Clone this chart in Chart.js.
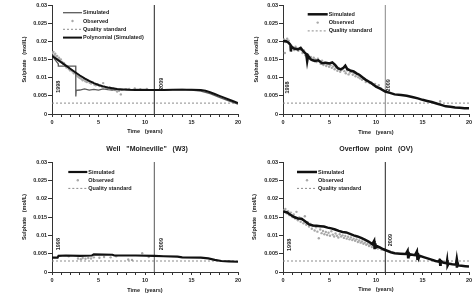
<!DOCTYPE html>
<html><head><meta charset="utf-8">
<script src="https://cdn.jsdelivr.net/npm/chart.js@4"></script>
<style>
body{margin:0;background:#fff;width:473px;height:302px;overflow:hidden;position:relative;font-family:"Liberation Sans",Arial,sans-serif}
canvas{position:absolute}
.t{position:absolute;font:bold 7px "Liberation Sans",Arial,sans-serif;white-space:pre;transform:translateX(-50%);line-height:8px;color:#222;z-index:5}
</style></head><body>
<canvas id="c1" width="242" height="145" style="left:0;top:0"></canvas>
<canvas id="c2" width="237" height="145" style="left:236px;top:0"></canvas>
<canvas id="c3" width="242" height="150" style="left:0;top:152px"></canvas>
<canvas id="c4" width="237" height="150" style="left:236px;top:152px"></canvas>
<div class="t" style="left:147px;top:145px">Well   "Moineville"   (W3)</div>
<div class="t" style="left:376px;top:145px">Overflow   point   (OV)</div>
<script>
// ---------- DATA ----------
const QUALITY_STANDARD = 0.003;
const SPLIT_YEAR_T = 11;
const Y_TICKS = [0, 0.005, 0.01, 0.015, 0.02, 0.025, 0.03];

// Panel 1 (top-left)
const TL_SIM_T = [0,0.3,0.67,0.68,1.5,2.55,2.56,2.6,3,3.5,4,4.5,5,5.5,6,6.5,7,7.5,8,8.5,9,10,11,12,13,14,15,16,17,18,19,20];
const TL_SIM_V = [0.0163,0.0150,0.0138,0.0132,0.0132,0.0132,0.0048,0.0065,0.0066,0.0069,0.0066,0.0068,0.0066,0.0069,0.0067,0.0066,0.0068,0.0066,0.0069,0.0067,0.0068,0.0068,0.0066,0.0066,0.0067,0.0068,0.0066,0.0063,0.0056,0.0046,0.0036,0.0027];
const TL_POLY_T = [0,0.5,1,1.5,2,2.5,3,3.5,4,4.5,5,5.5,6,7,8,9,10,11,12,13,14,15,16,16.5,17,17.5,18,18.5,19,19.5,20];
const TL_POLY_V = [0.0160,0.0151,0.0142,0.0133,0.0124,0.0115,0.0106,0.0098,0.0091,0.0085,0.0080,0.0076,0.0073,0.0069,0.0067,0.0066,0.0066,0.0066,0.0066,0.0067,0.0067,0.0067,0.0066,0.0064,0.0060,0.0055,0.0050,0.0045,0.0040,0.0035,0.0030];
const TL_OBS_T = [0.05,0.15,0.25,0.35,0.45,0.55,0.65,0.75,0.85,0.95,1.1,1.2,1.3,1.45,1.55,1.7,1.8,1.95,2.1,2.2,2.35,2.5,2.6,2.75,2.9,3.0,3.15,3.3,3.45,3.6,3.75,3.9,4.05,4.2,4.4,4.55,4.7,4.9,5.1,5.25,5.4,5.5,5.6,5.8,6.0,6.2,6.4,6.6,6.8,7.0,7.2,7.4,8.3,8.9,9.5,10.2];
const TL_OBS_V = [0.0168,0.0171,0.0162,0.0166,0.0158,0.0160,0.0152,0.0155,0.0148,0.0150,0.0143,0.0138,0.0140,0.0133,0.0128,0.0130,0.0124,0.0120,0.0121,0.0117,0.0112,0.0114,0.0108,0.0104,0.0101,0.0099,0.0097,0.0093,0.0095,0.0090,0.0088,0.0091,0.0086,0.0084,0.0087,0.0081,0.0079,0.0082,0.0077,0.0078,0.0074,0.0085,0.0076,0.0072,0.0071,0.0073,0.0068,0.0070,0.0066,0.0062,0.0064,0.0054,0.0069,0.0070,0.0068,0.0069];

// Panel 2 (top-right)
const TR_SIM_T = [0,0.3,0.6,0.8,0.85,0.9,1.2,1.6,1.9,2.2,2.5,2.6,2.7,3.0,3.4,3.8,4.2,4.6,5.0,5.3,5.6,5.9,6.2,6.5,6.7,6.9,7.3,7.6,7.9,8.2,8.6,8.9,9.3,9.6,10.0,10.5,11.0,11.5,12.0,12.7,13.3,14.0,14.5,15.0,15.5,16.0,16.5,17.0,17.5,18.0,18.5,19.0,19.5,20.0];
const TR_SIM_V = [0.0200,0.0201,0.0196,0.0190,0.0172,0.0185,0.0180,0.0178,0.0182,0.0172,0.0165,0.0145,0.0160,0.0150,0.0146,0.0148,0.0140,0.0141,0.0139,0.0142,0.0135,0.0126,0.0123,0.0127,0.0133,0.0124,0.0119,0.0117,0.0112,0.0108,0.0100,0.0094,0.0088,0.0083,0.0075,0.0069,0.0062,0.0058,0.0054,0.0052,0.0050,0.0046,0.0043,0.0039,0.0036,0.0033,0.0029,0.0025,0.0021,0.0020,0.0018,0.0017,0.0016,0.0016];
const TR_OBS_T = [0.1,0.2,0.3,0.45,0.6,0.75,0.9,1.05,1.2,1.35,1.5,1.65,1.8,1.95,2.1,2.25,2.4,2.55,2.7,2.85,3.0,3.15,3.3,3.45,3.6,3.75,3.9,4.05,4.2,4.35,4.5,4.65,4.8,4.95,5.1,5.25,5.4,5.55,5.7,5.85,6.0,6.15,6.3,6.45,6.6,6.75,6.9,7.05,7.2,7.35,7.5,7.65,7.8,7.95,8.1,8.3,8.5,8.7,8.9,9.1,9.3,9.5,9.7,9.9,10.1,10.3,10.5,16.9];
const TR_OBS_V = [0.0205,0.0168,0.0198,0.0207,0.0202,0.0193,0.0188,0.0183,0.0176,0.0185,0.0180,0.0174,0.0179,0.0176,0.0168,0.0175,0.0162,0.0158,0.0163,0.0152,0.0157,0.0148,0.0155,0.0150,0.0143,0.0152,0.0145,0.0138,0.0147,0.0135,0.0141,0.0132,0.0137,0.0130,0.0134,0.0127,0.0131,0.0123,0.0128,0.0119,0.0124,0.0116,0.0121,0.0125,0.0118,0.0112,0.0120,0.0109,0.0114,0.0117,0.0108,0.0112,0.0104,0.0109,0.0101,0.0098,0.0094,0.0097,0.0088,0.0091,0.0085,0.0087,0.0080,0.0083,0.0076,0.0079,0.0071,0.0035];

// Panel 3: Well "Moineville" (W3)
const BL_SIM_T = [0,0.6,0.7,1.5,3,4.3,4.5,6.5,6.7,9,11,12,13.5,14,16,16.8,17.5,18.2,19,20];
const BL_SIM_V = [0.0039,0.0039,0.0044,0.0045,0.0044,0.0045,0.0048,0.0047,0.0045,0.0045,0.0044,0.0043,0.0042,0.0040,0.0039,0.0037,0.0033,0.0030,0.0029,0.0028];
const BL_OBS_T = [1.8,2.8,3.1,3.3,3.6,3.9,4.2,4.5,5.1,5.6,6.3,6.9,8.2,8.6,9.7,10.4];
const BL_OBS_V = [0.0043,0.0037,0.0035,0.0038,0.0036,0.0038,0.0037,0.0040,0.0039,0.0041,0.0040,0.0043,0.0034,0.0033,0.0051,0.0041];

// Panel 4: Overflow point (OV)
const BR_SIM_T = [0,0.4,0.8,1.2,1.6,2.0,2.4,2.8,3.2,3.6,4.0,4.4,4.8,5.2,5.6,6.0,6.4,6.8,7.2,7.6,8.0,8.4,8.8,9.2,9.6,9.8,9.85,9.9,9.95,10.0,10.4,10.8,11.2,11.6,12.0,12.6,13.2,13.4,13.45,13.5,13.55,13.7,14.2,14.4,14.45,14.5,14.6,14.7,15.2,15.8,16.4,16.8,16.85,16.9,16.95,17.2,17.6,17.65,17.7,17.8,18.2,18.6,18.65,18.7,18.75,18.8,19.2,19.6,20];
const BR_SIM_V = [0.0165,0.0163,0.0156,0.0150,0.0146,0.0145,0.0138,0.0130,0.0127,0.0126,0.0125,0.0124,0.0121,0.0119,0.0116,0.0112,0.0109,0.0108,0.0104,0.0100,0.0097,0.0093,0.0088,0.0083,0.0076,0.0085,0.0062,0.0078,0.0064,0.0072,0.0067,0.0062,0.0058,0.0054,0.0051,0.0050,0.0049,0.0058,0.0040,0.0055,0.0044,0.0048,0.0046,0.0056,0.0036,0.0052,0.0038,0.0044,0.0040,0.0035,0.0030,0.0028,0.0036,0.0020,0.0031,0.0026,0.0024,0.0032,0.0018,0.0023,0.0021,0.0020,0.0029,0.0012,0.0026,0.0018,0.0017,0.0016,0.0015];
const BR_OBS_T = [0.1,0.25,0.4,0.55,0.7,0.85,1.0,1.15,1.3,1.45,1.6,1.75,1.9,2.05,2.2,2.35,2.5,2.65,2.8,2.95,3.1,3.25,3.4,3.55,3.7,3.85,4.0,4.15,4.3,4.45,4.6,4.75,4.9,5.05,5.2,5.35,5.5,5.65,5.8,5.95,6.1,6.25,6.4,6.55,6.7,6.85,7.0,7.15,7.3,7.45,7.6,7.75,7.9,8.05,8.2,8.35,8.5,8.65,8.8,8.95,9.1,9.25,9.4,9.55,9.7,9.85,10.0,10.2,10.4,10.6,10.8];
const BR_OBS_V = [0.0168,0.0172,0.0160,0.0166,0.0155,0.0162,0.0150,0.0157,0.0146,0.0164,0.0141,0.0149,0.0137,0.0143,0.0133,0.0152,0.0129,0.0136,0.0124,0.0131,0.0118,0.0127,0.0113,0.0122,0.0110,0.0092,0.0116,0.0106,0.0112,0.0103,0.0109,0.0101,0.0107,0.0099,0.0111,0.0102,0.0097,0.0105,0.0099,0.0094,0.0103,0.0097,0.0100,0.0093,0.0098,0.0091,0.0096,0.0089,0.0094,0.0087,0.0091,0.0085,0.0089,0.0082,0.0086,0.0080,0.0083,0.0077,0.0080,0.0074,0.0077,0.0071,0.0074,0.0068,0.0071,0.0066,0.0068,0.0064,0.0066,0.0061,0.0062];

// ---------- HELPERS ----------
const FAM = '"Liberation Sans", Arial, sans-serif';
const zip = (t, v) => t.map((x, i) => ({x, y: v[i]}));
const hline = (y) => [{x: 0, y}, {x: 20, y}];
const vline = (x) => [{x, y: 0}, {x, y: 0.03}];

const legendPlugin = {
  id: 'panelLegend',
  afterDraw(chart, args, o) {
    const ctx = chart.ctx, a = chart.chartArea;
    ctx.save();
    ctx.font = 'bold 5.5px ' + FAM;
    ctx.textBaseline = 'middle';
    let y = a.top + o.y;
    chart.data.datasets.forEach(ds => {
      if (!ds.label) return;
      const x0 = a.left + o.x;
      if (ds.showLine === false) {
        ctx.fillStyle = ds.backgroundColor;
        ctx.beginPath(); ctx.arc(x0 + o.w / 2, y, 1.2, 0, Math.PI * 2); ctx.fill();
      } else {
        ctx.strokeStyle = ds.borderColor;
        ctx.lineWidth = ds.borderWidth;
        ctx.setLineDash(ds.borderDash || []);
        ctx.beginPath(); ctx.moveTo(x0, y); ctx.lineTo(x0 + o.w, y); ctx.stroke();
        ctx.setLineDash([]);
      }
      ctx.fillStyle = '#222';
      ctx.fillText(ds.label, x0 + o.w + 1, y);
      y += o.dy;
    });
    ctx.restore();
  }
};

const yearPlugin = {
  id: 'yearLabels',
  afterDatasetsDraw(chart, args, o) {
    const ctx = chart.ctx, xs = chart.scales.x, ys = chart.scales.y;
    ctx.save();
    ctx.font = 'bold 5.5px ' + FAM;
    ctx.fillStyle = '#222';
    ctx.textAlign = 'center';
    ctx.textBaseline = 'middle';
    (o.items || []).forEach(it => {
      ctx.save();
      ctx.translate(xs.getPixelForValue(it.x), ys.getPixelForValue(it.y));
      ctx.rotate(-Math.PI / 2);
      ctx.fillText(it.text, 0, 0);
      ctx.restore();
    });
    ctx.restore();
  }
};

function makeChart(id, p) {
  const tickFont = {family: FAM, size: 5.5, weight: 'bold'};
  new Chart(document.getElementById(id), {
    type: 'scatter',
    data: {datasets: p.datasets},
    plugins: [legendPlugin, yearPlugin],
    options: {
      responsive: false, animation: false, devicePixelRatio: 1,
      layout: {padding: {left: 0, top: p.T, right: p.R, bottom: 0}},
      plugins: {
        legend: {display: false}, tooltip: {enabled: false},
        panelLegend: p.legend,
        yearLabels: {items: p.years}
      },
      scales: {
        x: {
          type: 'linear', min: 0, max: 20,
          afterFit: s => { s.height = p.XH; s.paddingLeft = 0; s.paddingRight = 0; },
          ticks: {stepSize: 1, autoSkip: false, maxRotation: 0, padding: 2, color: '#222', font: tickFont,
            callback: v => (v % 5 === 0 ? String(v) : '')},
          grid: {drawOnChartArea: false, drawTicks: true, tickLength: 3, color: '#333'},
          border: {display: true, color: '#333', width: 1},
          title: {display: true, text: 'Time   (years)', color: '#222', font: {family: FAM, size: 5.5, weight: 'bold'},
            padding: {top: 0, bottom: p.xTitlePad}}
        },
        y: {
          type: 'linear', min: 0, max: 0.03,
          afterFit: s => { s.width = p.L; s.paddingTop = 0; s.paddingBottom = 0; },
          afterBuildTicks: s => { s.ticks = Y_TICKS.map(v => ({value: v})); },
          ticks: {padding: 1, color: '#222', font: tickFont, callback: v => String(+(+v).toFixed(3))},
          grid: {drawOnChartArea: false, drawTicks: true, tickLength: 4, color: '#333'},
          border: {display: true, color: '#333', width: 1},
          title: {display: true, text: 'Sulphate   (mol/L)', color: '#222', font: {family: FAM, size: 5.5, weight: 'bold'},
            padding: {top: p.yTitlePad, bottom: 0}}
        }
      }
    }
  });
}

const obsStyle = {showLine: false, pointRadius: 1.2, pointBackgroundColor: '#a8a8a8', pointBorderWidth: 0, backgroundColor: '#a8a8a8', borderColor: '#a8a8a8', order: 5};
const qualStyle = {showLine: true, pointRadius: 0, borderColor: '#8c8c8c', borderWidth: 1, borderDash: [2, 2], order: 4};
const lineBase = {showLine: true, pointRadius: 0, tension: 0};

makeChart('c1', {
  L: 52, T: 5, R: 3, XH: 31, xTitlePad: 10, yTitlePad: 21.5,
  legend: {x: 11, y: 7.7, w: 19, dy: 8.3},
  years: [{text: '1998', x: 0.7, y: 0.0075}, {text: '2009', x: 11.8, y: 0.0083}],
  datasets: [
    {...lineBase, label: 'Simulated', data: zip(TL_SIM_T, TL_SIM_V), borderColor: '#5a5a5a', borderWidth: 1.3, order: 2},
    {...obsStyle, label: 'Observed', data: zip(TL_OBS_T, TL_OBS_V)},
    {...qualStyle, label: 'Quality standard', data: hline(QUALITY_STANDARD)},
    {...lineBase, label: 'Polynomial (Simulated)', data: zip(TL_POLY_T, TL_POLY_V), borderColor: '#111', borderWidth: 2, order: 1},
    {...lineBase, data: vline(SPLIT_YEAR_T), borderColor: '#222', borderWidth: 1, order: 3}
  ]
});

makeChart('c2', {
  L: 47, T: 5, R: 1, XH: 31, xTitlePad: 9.4, yTitlePad: 16.7,
  legend: {x: 24.7, y: 9.3, w: 20, dy: 8.3},
  years: [{text: '1998', x: 0.5, y: 0.0073}, {text: '2009', x: 11.35, y: 0.0079}],
  datasets: [
    {...lineBase, label: 'Simulated', data: zip(TR_SIM_T, TR_SIM_V), borderColor: '#111', borderWidth: 2.5, order: 1},
    {...obsStyle, label: 'Observed', data: zip(TR_OBS_T, TR_OBS_V)},
    {...qualStyle, label: 'Quality standard', data: hline(QUALITY_STANDARD)},
    {...lineBase, data: vline(SPLIT_YEAR_T), borderColor: '#888', borderWidth: 1, order: 3}
  ]
});

makeChart('c3', {
  L: 52, T: 10, R: 3, XH: 30, xTitlePad: 8.7, yTitlePad: 21.5,
  legend: {x: 16.3, y: 10, w: 19, dy: 8.2},
  years: [{text: '1998', x: 0.7, y: 0.0076}, {text: '2009', x: 11.8, y: 0.0076}],
  datasets: [
    {...lineBase, label: 'Simulated', data: zip(BL_SIM_T, BL_SIM_V), borderColor: '#111', borderWidth: 2.2, order: 1},
    {...obsStyle, label: 'Observed', data: zip(BL_OBS_T, BL_OBS_V)},
    {...qualStyle, label: 'Quality standard', data: hline(QUALITY_STANDARD)},
    {...lineBase, data: vline(SPLIT_YEAR_T), borderColor: '#555', borderWidth: 1, order: 3}
  ]
});

makeChart('c4', {
  L: 47, T: 10, R: 1, XH: 30, xTitlePad: 9.4, yTitlePad: 15,
  legend: {x: 14, y: 10, w: 20, dy: 8.2},
  years: [{text: '1998', x: 0.67, y: 0.0074}, {text: '2009', x: 11.6, y: 0.0087}],
  datasets: [
    {...lineBase, label: 'Simulated', data: zip(BR_SIM_T, BR_SIM_V), borderColor: '#111', borderWidth: 2.5, order: 1},
    {...obsStyle, label: 'Observed', data: zip(BR_OBS_T, BR_OBS_V)},
    {...qualStyle, label: 'Quality standard', data: hline(QUALITY_STANDARD)},
    {...lineBase, data: vline(SPLIT_YEAR_T), borderColor: '#222', borderWidth: 1, order: 3}
  ]
});
</script>
</body></html>
